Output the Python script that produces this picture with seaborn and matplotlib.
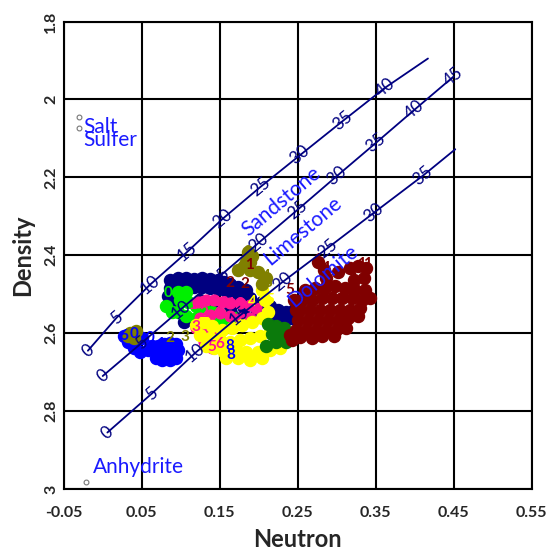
import matplotlib
matplotlib.use("Agg")
import matplotlib.pyplot as plt
import seaborn as sns
import pandas as pd

sns.set_theme(style="white")
plt.rcParams['font.family'] = ['Lato', 'DejaVu Sans']

# ---------------- lithology lines (neutron, density, porosity label) ----------
sand_n = [-0.019, 0.018, 0.061, 0.108, 0.154, 0.202, 0.253, 0.308, 0.362, 0.417]
sand_d = [2.645, 2.560, 2.475, 2.392, 2.306, 2.225, 2.143, 2.055, 1.970, 1.895]
sand_lbl = ['0', '5', '10', '15', '20', '25', '30', '35', '40', '']

lime_n = [0.0, 0.05, 0.10, 0.15, 0.20, 0.25, 0.30, 0.35, 0.40, 0.45]
lime_d = [2.71, 2.625, 2.539, 2.454, 2.368, 2.283, 2.197, 2.112, 2.026, 1.941]
lime_lbl = ['0', '5', '10', '15', '20', '25', '30', '35', '40', '45']

dolo_n = [0.006, 0.063, 0.119, 0.175, 0.231, 0.288, 0.347, 0.411, 0.452]
dolo_d = [2.855, 2.755, 2.650, 2.556, 2.468, 2.382, 2.292, 2.195, 2.128]
dolo_lbl = ['0', '5', '10', '15', '20', '25', '30', '35', '']

# ---------------- minerals ----------------
mineral_names = ['Salt', 'Sulfer', 'Anhydrite']
mineral_n = [-0.030, -0.030, -0.021]
mineral_d = [2.046, 2.074, 2.983]

# ---------------- log data clusters ----------------
navy_n = [0.0863, 0.0965, 0.1068, 0.1171, 0.1273, 0.1376, 0.1478, 0.1555, 0.1632, 0.1735, 0.1837,
          0.0863, 0.0965, 0.1068, 0.1171, 0.1273, 0.1376, 0.1478, 0.1581, 0.1683, 0.1786, 0.1888,
          0.0837, 0.0940, 0.1042, 0.1247, 0.1427, 0.1632, 0.1812, 0.1965,
          0.2042, 0.2145, 0.2247, 0.2350, 0.2427, 0.2324, 0.2222, 0.2119, 0.2453]
navy_d = [2.464, 2.459, 2.459, 2.462, 2.459, 2.462, 2.464, 2.469, 2.474, 2.482, 2.490,
          2.485, 2.485, 2.482, 2.482, 2.482, 2.485, 2.487, 2.492, 2.500, 2.505, 2.510,
          2.505, 2.516, 2.572, 2.516, 2.528, 2.541, 2.536, 2.554,
          2.521, 2.531, 2.541, 2.546, 2.562, 2.572, 2.562, 2.552, 2.541]

green_n = [0.0812, 0.0888, 0.0965, 0.1068, 0.0991, 0.1094, 0.1196, 0.1299, 0.1401, 0.1504,
           0.0965, 0.1068, 0.1196, 0.1324, 0.1453, 0.1581, 0.1709, 0.1299]
green_d = [2.531, 2.546, 2.495, 2.495, 2.516, 2.521, 2.531, 2.541, 2.546, 2.552,
           2.546, 2.557, 2.562, 2.567, 2.572, 2.567, 2.562, 2.521]

pink_n = [0.1222, 0.1324, 0.1427, 0.1529, 0.1632, 0.1760, 0.1888, 0.1965,
          0.1247, 0.1376, 0.1504, 0.1632, 0.1760, 0.1888,
          0.1196, 0.1324, 0.1427, 0.1299, 0.1401, 0.1504]
pink_d = [2.521, 2.516, 2.516, 2.521, 2.523, 2.523, 2.528, 2.536,
          2.562, 2.554, 2.549, 2.557, 2.562, 2.562,
          2.588, 2.593, 2.605, 2.623, 2.639, 2.631]

yellow_n = [0.1196, 0.1299, 0.1401, 0.1529, 0.1658, 0.1786, 0.1914, 0.2042, 0.2119, 0.2081, 0.2042,
            0.1247, 0.1376, 0.1504, 0.1632, 0.1760, 0.1888, 0.2017, 0.2145, 0.2247,
            0.2273, 0.2145, 0.1991, 0.1837, 0.1709, 0.1555, 0.1427, 0.1324,
            0.1888, 0.2042, 0.1735, 0.1581]
yellow_d = [2.580, 2.572, 2.582, 2.593, 2.588, 2.580, 2.572, 2.562, 2.546, 2.516, 2.490,
            2.605, 2.613, 2.618, 2.623, 2.618, 2.613, 2.608, 2.598, 2.593,
            2.639, 2.644, 2.649, 2.649, 2.644, 2.649, 2.639, 2.634,
            2.670, 2.665, 2.665, 2.665]

dkgreen_n = [0.2119, 0.2222, 0.2324, 0.2171, 0.2299, 0.2222, 0.2350, 0.2094]
dkgreen_d = [2.577, 2.582, 2.588, 2.603, 2.608, 2.623, 2.623, 2.634]

maroon_n = [0.2760, 0.2837, 0.2863, 0.3017, 0.3171, 0.3273, 0.3376, 0.3350, 0.3222,
            0.2594, 0.2722, 0.2850, 0.2978, 0.3106, 0.3235, 0.3363,
            0.2555, 0.2683, 0.2812, 0.2940, 0.3068, 0.3196, 0.3324, 0.3427,
            0.2529, 0.2658, 0.2786, 0.2914, 0.3042, 0.3171, 0.3299,
            0.2504, 0.2632, 0.2760, 0.2888, 0.3017, 0.3145, 0.3273,
            0.2478, 0.2606, 0.2735, 0.2863, 0.2991, 0.3119,
            0.2529, 0.2683, 0.2812, 0.2965, 0.2401, 0.2427, 0.2453, 0.2478]
maroon_d = [2.418, 2.438, 2.459, 2.444, 2.433, 2.428, 2.433, 2.459, 2.464,
            2.490, 2.485, 2.485, 2.480, 2.485, 2.490, 2.490,
            2.516, 2.516, 2.510, 2.510, 2.510, 2.510, 2.516, 2.510,
            2.541, 2.541, 2.541, 2.541, 2.541, 2.541, 2.536,
            2.567, 2.567, 2.567, 2.567, 2.567, 2.562, 2.557,
            2.593, 2.593, 2.593, 2.593, 2.593, 2.588,
            2.611, 2.613, 2.608, 2.608, 2.605, 2.618, 2.516, 2.541]

blue_n = [0.0273, 0.0350, 0.0324, 0.0427, 0.0504, 0.0401, 0.0478, 0.0581, 0.0632, 0.0709,
          0.0786, 0.0863, 0.0940, 0.0735, 0.0812, 0.0888, 0.0965, 0.0760, 0.0863, 0.0940,
          0.0683]
blue_d = [2.608, 2.603, 2.623, 2.618, 2.613, 2.639, 2.649, 2.644, 2.634, 2.634,
          2.629, 2.626, 2.629, 2.649, 2.649, 2.649, 2.644, 2.670, 2.670, 2.665,
          2.665]

olive_n = [0.1863, 0.1914, 0.1888, 0.1837, 0.1812, 0.1735, 0.1888, 0.1991, 0.2094, 0.2042,
           0.0350, 0.0427, 0.0401, 0.0324]
olive_d = [2.392, 2.403, 2.418, 2.418, 2.428, 2.438, 2.438, 2.444, 2.459, 2.474,
           2.600, 2.595, 2.613, 2.608]

# digit labels printed on top of some data points
digit_n = [0.2760, 0.2863, 0.3196, 0.3324, 0.3401, 0.2401, 0.1632, 0.1824, 0.1876,
           0.1863, 0.1760, 0.2094, 0.2119, 0.0863, 0.1055,
           0.0273, 0.0401, 0.0606, 0.0735, 0.0709, 0.1632, 0.1645,
           0.1914, 0.2145, 0.2094, 0.0837,
           0.1145, 0.1273, 0.1427, 0.1555, 0.1632, 0.1760, 0.1299, 0.1453, 0.1196, 0.1401, 0.1504]
digit_d = [2.412, 2.433, 2.438, 2.423, 2.423, 2.490, 2.472, 2.474, 2.426,
           2.392, 2.436, 2.452, 2.470, 2.613, 2.611,
           2.608, 2.603, 2.613, 2.628, 2.644, 2.634, 2.657,
           2.521, 2.516, 2.546, 2.498,
           2.528, 2.523, 2.521, 2.523, 2.526, 2.526, 2.549, 2.552, 2.585, 2.636, 2.628]
digit_txt = ['1', '1', '2', '1', '1', '5', '2', '2', '1',
             '0', '1', '4', '3', '2', '3',
             '6', '0', '0', '1', '2', '8', '8',
             '4', '5', '6', '0',
             '1', '3', '2', '3', '4', '3', '2', '4', '3', '5', '6']
digit_grp = ['maroon'] * 9 + ['olive'] * 6 + ['blue'] * 7 + ['yellow'] * 3 + ['green'] + ['pink'] * 11

# ---------------- styles ----------------
NAVY = '#000080'
TXT_BLUE = '#1a1aff'
colors = {'navy': '#000080', 'green': '#00f000', 'pink': '#ff1493', 'yellow': '#ffff00',
          'dkgreen': '#0b7a0b', 'maroon': '#800000', 'blue': '#0000ff', 'olive': '#808000'}

W, H = 554, 552
fig = plt.figure(figsize=(W / 100, H / 100), dpi=100)
ax = fig.add_axes([63.7 / W, 1 - 489 / H, (531.7 - 63.7) / W, (489 - 21.5) / H])

groups = [('navy', navy_n, navy_d, 75), ('green', green_n, green_d, 75), ('pink', pink_n, pink_d, 60),
          ('yellow', yellow_n, yellow_d, 75), ('dkgreen', dkgreen_n, dkgreen_d, 75),
          ('maroon', maroon_n, maroon_d, 75), ('blue', blue_n, blue_d, 75), ('olive', olive_n, olive_d, 75)]
for name, xs, ys, sz in groups:
    df = pd.DataFrame({'Neutron': xs, 'Density': ys})
    sns.scatterplot(data=df, x='Neutron', y='Density', ax=ax, color=colors[name],
                    edgecolor=colors[name], s=sz, linewidth=1, zorder=3, legend=False)

for x, y, t, g in zip(digit_n, digit_d, digit_txt, digit_grp):
    ax.text(x, y, t, color=colors[g], fontsize=11, fontweight='bold',
            ha='center', va='center', zorder=4)

# lithology lines
for xs, ys, lbls in [(sand_n, sand_d, sand_lbl), (lime_n, lime_d, lime_lbl), (dolo_n, dolo_d, dolo_lbl)]:
    df = pd.DataFrame({'Neutron': xs, 'Density': ys})
    sns.lineplot(data=df, x='Neutron', y='Density', ax=ax, sort=False, estimator=None,
                 color=NAVY, linewidth=1.3, zorder=5)
    for x, y, t in zip(xs, ys, lbls):
        if t:
            ax.text(x, y, t, color=NAVY, fontsize=12.5, rotation=40, ha='center', va='center',
                    rotation_mode='anchor', zorder=6)

# minerals
mdf = pd.DataFrame({'Neutron': mineral_n, 'Density': mineral_d})
sns.scatterplot(data=mdf, x='Neutron', y='Density', ax=ax, marker='o', s=12,
                facecolor='white', edgecolor='#777777', linewidth=0.8, zorder=5, legend=False)
offsets = [(3, -11.5), (3, -13), (4.5, 6.5)]
for x, y, t, off in zip(mineral_n, mineral_d, mineral_names, offsets):
    ax.annotate(t, (x, y), xytext=off, textcoords='offset points', color=TXT_BLUE,
                fontsize=15, ha='left', va='baseline', zorder=6)

# lithology names
for t, x, y in [('Sandstone', 0.2286, 2.263), ('Limestone', 0.2568, 2.338), ('Dolomite', 0.2829, 2.454)]:
    ax.text(x, y, t, color=TXT_BLUE, fontsize=15, rotation=40, ha='center', va='center',
            rotation_mode='anchor', zorder=6)

# axes
xt = [-0.05, 0.05, 0.15, 0.25, 0.35, 0.45, 0.55]
xt_lbl = ['-0.05', '0.05', '0.15', '0.25', '0.35', '0.45', '0.55']
yt = [1.8, 2.0, 2.2, 2.4, 2.6, 2.8, 3.0]
yt_lbl = ['1.8', '2', '2.2', '2.4', '2.6', '2.8', '3']
ax.set_xlim(-0.05, 0.55)
ax.set_ylim(3.0, 1.8)
ax.set_xticks(xt)
ax.set_xticklabels(xt_lbl, fontsize=11.5, fontweight='bold')
ax.set_yticks(yt)
ax.set_yticklabels(yt_lbl, fontsize=11.5, fontweight='bold', rotation=90, va='center')
ax.tick_params(axis='x', length=0, pad=12)
ax.tick_params(axis='y', length=0, pad=4)
ax.grid(True, color='black', linewidth=1.5)
ax.set_axisbelow(True)
for sp in ax.spines.values():
    sp.set_color('black')
    sp.set_linewidth(1.5)
ax.set_xlabel('Neutron', fontsize=17, fontweight='bold', labelpad=6)
ax.set_ylabel('Density', fontsize=17, fontweight='bold', labelpad=7)

fig.savefig('out.png', dpi=100)
